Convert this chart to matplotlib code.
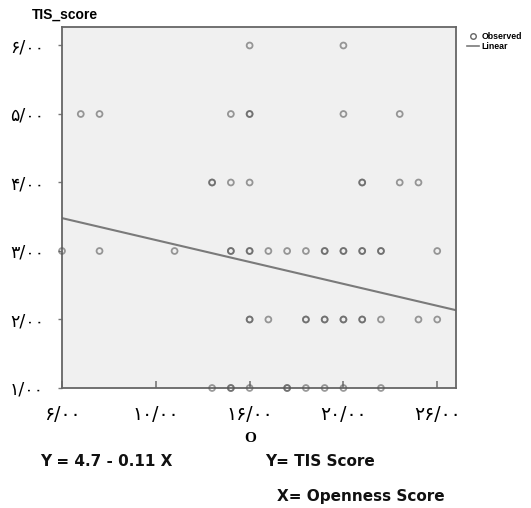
import matplotlib
matplotlib.use("Agg")
import matplotlib.pyplot as plt
from matplotlib.lines import Line2D

# ---- data ----
openness = [15, 20,
            6, 7, 14, 15, 15, 20, 23,
            13, 13, 14, 15, 21, 21, 23, 24,
            5, 7, 11, 14, 14, 15, 15, 16, 17, 18, 19, 19, 20, 20, 21, 21, 22, 22, 25,
            15, 15, 16, 18, 18, 19, 19, 20, 20, 21, 21, 22, 24, 25,
            13, 14, 14, 15, 17, 17, 18, 19, 20, 22]
tis_score = [6, 6,
             5, 5, 5, 5, 5, 5, 5,
             4, 4, 4, 4, 4, 4, 4, 4,
             3, 3, 3, 3, 3, 3, 3, 3, 3, 3, 3, 3, 3, 3, 3, 3, 3, 3, 3,
             2, 2, 2, 2, 2, 2, 2, 2, 2, 2, 2, 2, 2, 2,
             1, 1, 1, 1, 1, 1, 1, 1, 1, 1]
line_intercept = 3.80
line_slope = -0.064
x_ticks = [5, 10, 15, 20, 25]
x_tick_labels = ["۶/۰۰", "۱۰/۰۰", "۱۶/۰۰", "۲۰/۰۰", "۲۶/۰۰"]
y_ticks = [1, 2, 3, 4, 5, 6]
y_tick_labels = ["۱/۰۰", "۲/۰۰", "۳/۰۰", "۴/۰۰", "۵/۰۰", "۶/۰۰"]
x_range = [5, 26]
y_range = [1, 6.27]

fig = plt.figure(figsize=(5.31, 5.08), dpi=100)
ax = fig.add_axes([62/531, 1-388/508, (456-62)/531, (388-27)/508])
ax.set_facecolor("#f0f0f0")

sc = ax.scatter(openness, tis_score, s=18, facecolors="none",
                edgecolors=(0.35, 0.35, 0.35, 0.6), linewidths=1.3, zorder=3,
                clip_on=False)
lx = x_range
ly = [line_intercept + line_slope * v for v in lx]
ln, = ax.plot(lx, ly, color="#7a7a7a", lw=1.5, zorder=2)

ax.set_xlim(*x_range)
ax.set_ylim(*y_range)
ax.set_xticks(x_ticks)
ax.set_xticklabels(x_tick_labels, fontsize=13.5, family="DejaVu Sans")
ax.set_yticks(y_ticks)
ax.set_yticklabels(y_tick_labels, fontsize=12.5, family="DejaVu Sans")
ax.tick_params(axis="x", direction="in", length=5, width=1.2, color="#777777", pad=12)
ax.tick_params(axis="y", direction="out", length=3, width=1, color="#777777", pad=10)
for s in ax.spines.values():
    s.set_color("#666666")
    s.set_linewidth(1.3)

fig.text(32/531, 1-15/508, "TIS_score", fontsize=10, fontweight="bold",
         family="Liberation Sans", ha="left", va="center")
fig.text(250/531, 1-438/508, "O", fontsize=11, fontweight="bold",
         family="Liberation Serif", ha="center", va="center")

h1 = Line2D([], [], marker="o", ls="none", markerfacecolor="none",
            markeredgecolor="#666666", markersize=4, markeredgewidth=1)
h2 = Line2D([], [], color="#7a7a7a", lw=1.2)
fig.legend([h1, h2], ["Observed", "Linear"], loc="upper left",
           bbox_to_anchor=(463/531, 1-28/508), frameon=False,
           prop={"family": "Liberation Sans", "weight": "bold", "size": 6.3},
           handlelength=1.3, handletextpad=0.3, labelspacing=0.1, borderpad=0)

tprops = dict(fontsize=11, fontweight="bold", family="DejaVu Sans", color="#111111",
              ha="left", va="center")
fig.text(40/531, 1-461/508, "Y = 4.7 - 0.11 X", **tprops)
fig.text(265/531, 1-461/508, "Y= TIS Score", **tprops)
fig.text(277/531, 1-496/508, "X= Openness Score", **tprops)

fig.savefig("out.png", dpi=100)
